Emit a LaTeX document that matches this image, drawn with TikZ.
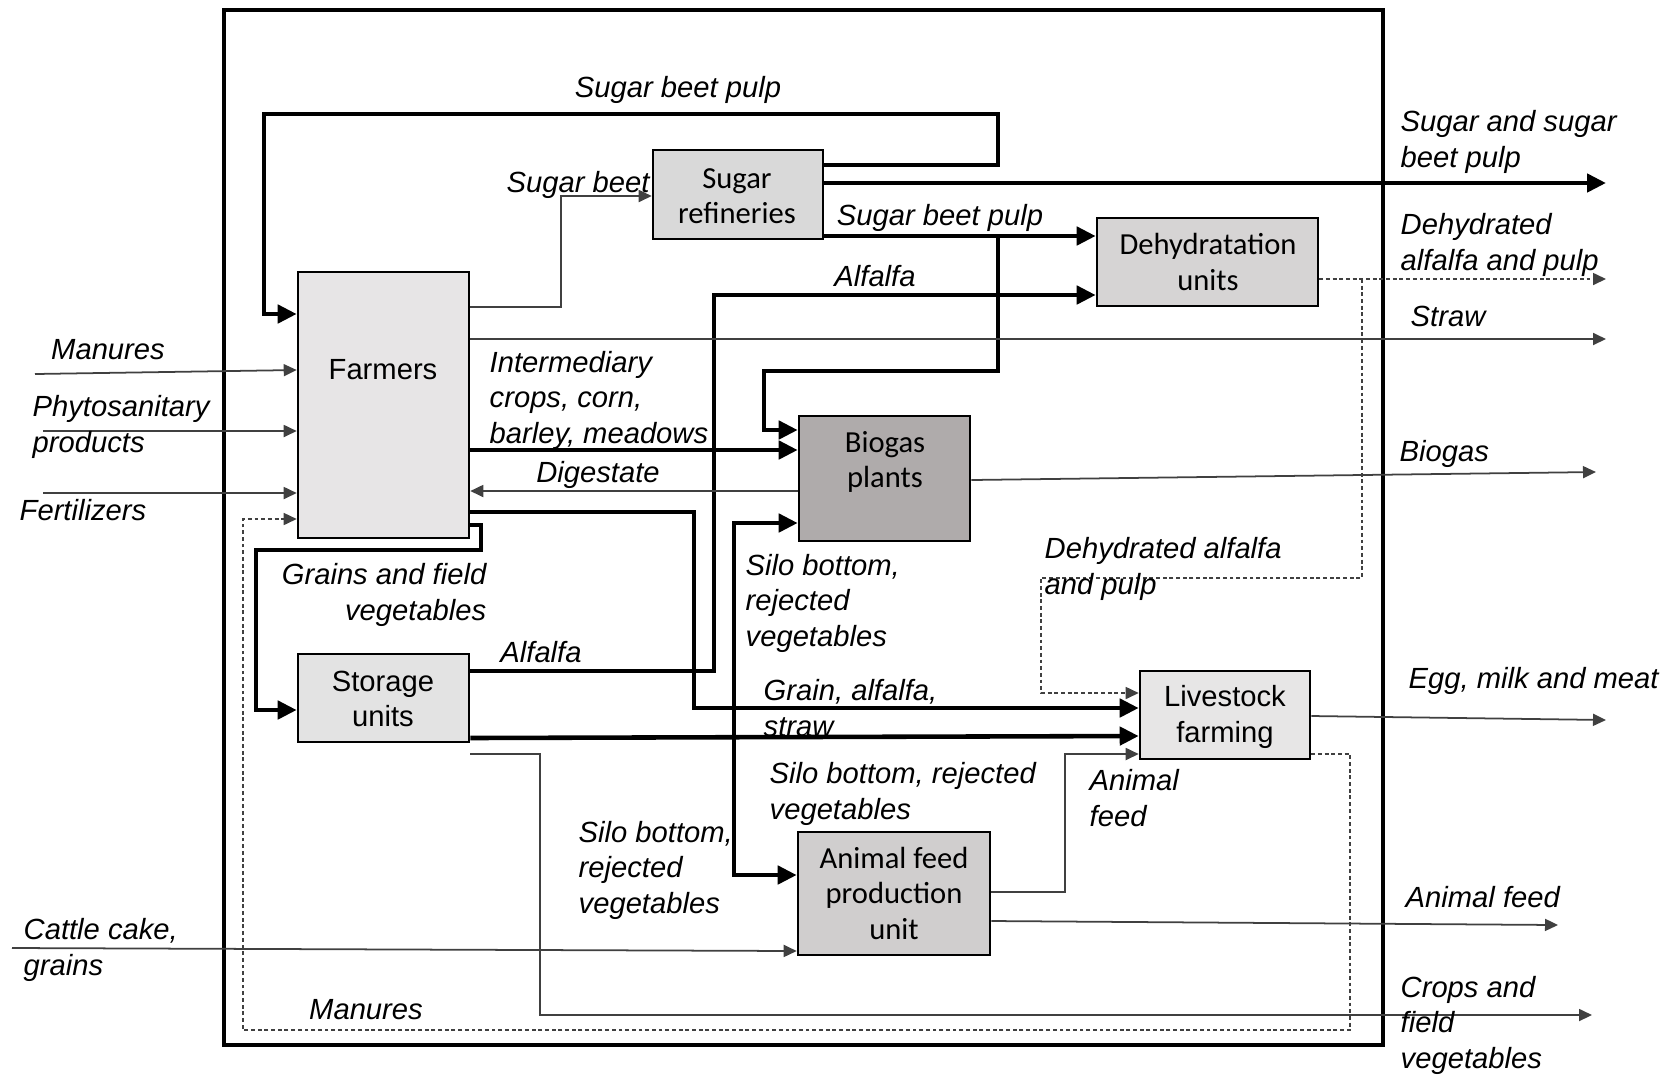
\documentclass[tikz,border=0pt]{standalone}
\usepackage{fontspec}
\setmainfont{Liberation Sans}
\newfontfamily\calfont{Carlito}
\usetikzlibrary{arrows.meta}
\definecolor{farmgray}{HTML}{E7E5E6}
\definecolor{sugargray}{HTML}{D9D9D9}
\definecolor{dehydgray}{HTML}{D6D4D4}
\definecolor{biogasgray}{HTML}{AFABAB}
\definecolor{storegray}{HTML}{E3E3E3}
\definecolor{livegray}{HTML}{E7E6E6}
\definecolor{feedgray}{HTML}{D0CECE}

\begin{document}
\begin{tikzpicture}[x=0.01cm,y=-0.01cm,
  box/.style={draw,line width=0.7pt,inner sep=0pt},
  boxtext/.style={inner sep=0pt,align=center,font=\fontsize{8.3}{10.1}\selectfont},
  grytext/.style={boxtext,font=\calfont\fontsize{8.7}{10.1}\selectfont},
  lbl/.style={inner sep=0pt,align=left,font=\fontsize{8.3}{10.1}\selectfont\itshape},
  flow/.style={line width=1.3pt,-{Triangle[length=1.9mm,width=1.8mm]}},
  thinflow/.style={line width=0.5pt,draw=black!75,-{Triangle[length=1.3mm,width=1.2mm]}},
  dashflow/.style={line width=0.45pt,draw=black!75,dash pattern=on 1.1pt off 0.8pt,-{Triangle[length=1.3mm,width=1.2mm]}}]
  \useasboundingbox (0,0) rectangle (1670,1075);
  % system boundary
  \draw[line width=1.2pt] (224,10) rectangle (1383,1045);

  % boxes
  \node[box,fill=farmgray,minimum width=1.71cm,minimum height=2.66cm] (farm) at (383.5,405) {};
  \node[boxtext] (farmtxt) at (383,370) {Farmers};
  \node[box,fill=sugargray,minimum width=1.70cm,minimum height=0.89cm] (sugar) at (738,194.5) {};
  \node[grytext] (sugartxt) at (737,196) {Sugar\\refineries};
  \node[box,fill=dehydgray,minimum width=2.21cm,minimum height=0.88cm] (dehyd) at (1207.5,262) {};
  \node[grytext] (dehydtxt) at (1208,262) {Dehydratation\\units};
  \node[box,fill=biogasgray,minimum width=1.71cm,minimum height=1.25cm] (biogas) at (884.5,478.5) {};
  \node[grytext] (biogastxt) at (885,462) {Biogas\\plants};
  \node[box,fill=storegray,minimum width=1.71cm,minimum height=0.88cm] (store) at (383.5,698) {};
  \node[boxtext] (storetxt) at (383,699) {Storage\\units};
  \node[box,fill=livegray,minimum width=1.70cm,minimum height=0.88cm] (live) at (1225,715) {};
  \node[boxtext] (livetxt) at (1225,717) {Livestock\\farming};
  \node[box,fill=feedgray,minimum width=1.92cm,minimum height=1.23cm] (feed) at (894,893.5) {};
  \node[grytext] (feedtxt) at (894,893) {Animal feed\\production\\unit};

  % thick flows
  \draw[flow] (sugar.east |- 0,165) -- (998,165) -- (998,114) -- (264,114) -- (264,314) -- (farm.west |- 0,314);
  \draw[flow] (sugar.east |- 0,183) -- (1606,183);
  \draw[flow] (sugar.east |- 0,236) -- (dehyd.west |- 0,236);
  \draw[flow] (998,236) -- (998,371) -- (764,371) -- (764,430) -- (biogas.west |- 0,430);
  \draw[flow] (store.east |- 0,671) -- (714,671) -- (714,295) -- (dehyd.west |- 0,295);
  \draw[flow] (farm.east |- 0,450) -- (biogas.west |- 0,450);
  \draw[flow] (farm.east |- 0,512) -- (694,512) -- (694,708) -- (live.west |- 0,708);
  \draw[flow] (farm.east |- 0,525) -- (481,525) -- (481,550) -- (256,550) -- (256,710) -- (store.west |- 0,710);
  \draw[flow] (store.east |- 0,738) -- (live.west |- 0,736);
  \draw[line width=1.3pt,{Triangle[length=1.9mm,width=1.8mm]}-{Triangle[length=1.9mm,width=1.8mm]}]
    (biogas.west |- 0,523) -- (734,523) -- (734,875) -- (feed.west |- 0,875);

  % thin flows
  \draw[thinflow] (biogas.west |- 0,491) -- (farm.east |- 0,491);
  \draw[thinflow] (farm.east |- 0,307) -- (561,307) -- (561,196) -- (sugar.west |- 0,196);
  \draw[thinflow] (farm.east |- 0,339) -- (1606,339);
  \draw[thinflow] (store.east |- 0,754) -- (540,754) -- (540,1015) -- (1592,1015);
  \draw[thinflow] (biogas.east |- 0,480) -- (1596,472);
  \draw[thinflow] (live.east |- 0,716) -- (1606,720);
  \draw[thinflow] (feed.east |- 0,921) -- (1558,925);
  \draw[thinflow] (feed.east |- 0,892) -- (1065,892) -- (1065,754) -- (live.west |- 0,754);
  \draw[thinflow] (12,948) -- (feed.west |- 0,951);
  \draw[thinflow] (35,374) -- (farm.west |- 0,370);
  \draw[thinflow] (43,431) -- (farm.west |- 0,431);
  \draw[thinflow] (43,493) -- (farm.west |- 0,493);

  % dashed flows
  \draw[dashflow] (live.east |- 0,754) -- (1350,754) -- (1350,1030) -- (243,1030) -- (243,519) -- (farm.west |- 0,519);
  \draw[dashflow] (dehyd.east |- 0,279) -- (1606,279);
  \draw[dashflow] (1362,279) -- (1362,578) -- (1041,578) -- (1041,693) -- (live.west |- 0,693);

  % labels
  \node[lbl] (l1) at (678,90) {Sugar beet pulp};
  \node[lbl] (l2) at (578,185) {Sugar beet};
  \node[lbl,anchor=west] (l3) at (1400,142) {Sugar and sugar\\beet pulp};
  \node[lbl] (l4) at (940,218) {Sugar beet pulp};
  \node[lbl,anchor=west] (l5) at (1400,245) {Dehydrated\\alfalfa and pulp};
  \node[lbl] (l6) at (875,276) {Alfalfa};
  \node[lbl,anchor=west] (l7) at (1410,316) {Straw};
  \node[lbl] (l8) at (108,350) {Manures};
  \node[lbl,anchor=west] (l9) at (32,427) {Phytosanitary\\products};
  \node[lbl,anchor=west] (l10) at (19,510) {Fertilizers};
  \node[lbl,anchor=west] (l11) at (489,400) {Intermediary\\crops, corn,\\barley, meadows};
  \node[lbl] (l12) at (598,475) {Digestate};
  \node[lbl,anchor=west] (l13) at (1399,454) {Biogas};
  \node[lbl,anchor=east,align=right] (l14) at (487,595) {Grains and field\\vegetables};
  \node[lbl] (l15) at (541,652) {Alfalfa};
  \node[lbl,anchor=west] (l16) at (745,603) {Silo bottom,\\rejected\\vegetables};
  \node[lbl,anchor=west] (l17) at (1044,569) {Dehydrated alfalfa\\and pulp};
  \node[lbl,anchor=west] (l18) at (763,708) {Grain, alfalfa,\\straw};
  \node[lbl,anchor=west] (l19) at (1408,681) {Egg, milk and meat};
  \node[lbl,anchor=west] (l20) at (769,794) {Silo bottom, rejected\\vegetables};
  \node[lbl,anchor=west] (l21) at (1089,798) {Animal\\feed};
  \node[lbl,anchor=west] (l22) at (578,870) {Silo bottom,\\rejected\\vegetables};
  \node[lbl,anchor=west] (l23) at (1405,897) {Animal feed};
  \node[lbl,anchor=west] (l24) at (23,950) {Cattle cake,\\grains};
  \node[lbl] (l25) at (366,1010) {Manures};
  \node[lbl,anchor=west] (l26) at (1400,1025) {Crops and\\field\\vegetables};
\end{tikzpicture}
\end{document}
